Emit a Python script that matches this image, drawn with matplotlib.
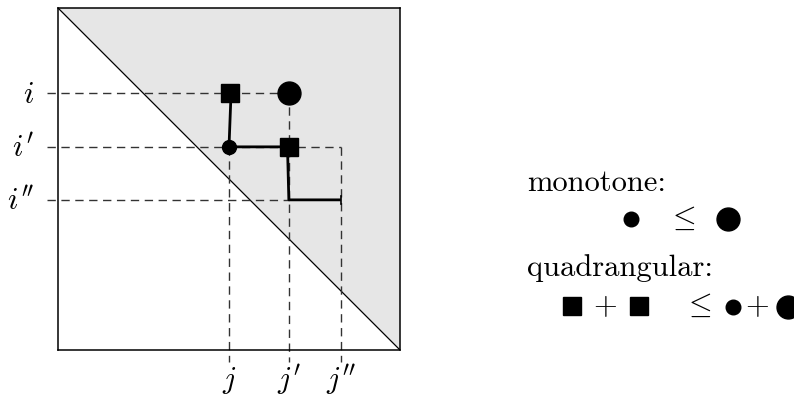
import matplotlib.pyplot as plt
import numpy as np

plt.rcParams['mathtext.fontset'] = 'cm'

# positions of the rows / columns inside the unit square
row_names = ["i", "i'", "i''"]
row_pos = [0.751, 0.594, 0.439]
col_names = ["j", "j'", "j''"]
col_pos = [0.500, 0.675, 0.827]

# marks on the grid: (column index, row index)
square_pts = [(0, 0), (1, 1)]
small_dot = (0, 1)
big_dot = (1, 0)
# solid path through the cells
path_cols = [0, 0, 1, 1, 1, 2]
path_rows = [0, 1, 1, 1, 2, 2]

fig = plt.figure(figsize=(7.94, 4.02), dpi=100)
ax = fig.add_axes([58 / 794, 51 / 402, 342 / 794, 342 / 402])
ax.set_xlim(0, 1)
ax.set_ylim(0, 1)
ax.set_xticks([])
ax.set_yticks([])
for s in ax.spines.values():
    s.set_linewidth(1.1)

# shaded upper triangle and diagonal
ax.fill([0, 1, 1], [1, 1, 0], color='#e6e6e6', lw=0, zorder=0)
ax.plot([0, 1], [1, 0], color='black', lw=0.9, zorder=1)

dash = dict(color='#333333', lw=1.0, dashes=(6, 4), clip_on=False, zorder=2)
x0 = -0.032
y0 = -0.035
# horizontal dashed guides
ax.plot([x0, col_pos[1]], [row_pos[0], row_pos[0]], **dash)
ax.plot([x0, col_pos[2]], [row_pos[1], row_pos[1]], **dash)
ax.plot([x0, col_pos[1]], [row_pos[2], row_pos[2]], **dash)
# vertical dashed guides
ax.plot([col_pos[0], col_pos[0]], [row_pos[1], y0], **dash)
ax.plot([col_pos[1], col_pos[1]], [row_pos[0], y0], **dash)
ax.plot([col_pos[2], col_pos[2]], [row_pos[1], y0], **dash)

# solid path
px = [col_pos[c] for c in path_cols]
py = [row_pos[r] for r in path_rows]
px[0] += 0.006
px[3] -= 0.004
ax.plot(px, py, color='black', lw=2.0, zorder=3, solid_capstyle='butt')
ax.plot([col_pos[2], col_pos[2]], [row_pos[2] - 0.012, row_pos[2] + 0.012],
        color='black', lw=1.2, zorder=3)

for c, r in square_pts:
    ax.plot(col_pos[c] + (0.004 if c == 0 else 0), row_pos[r], 's',
            color='black', ms=13.5, zorder=4)
ax.plot(col_pos[small_dot[0]], row_pos[small_dot[1]], 'o', color='black', ms=10, zorder=4)
ax.plot(col_pos[big_dot[0]], row_pos[big_dot[1]], 'o', color='black', ms=16.5, zorder=4)

# axis labels
for name, y in zip(row_names, row_pos):
    ax.text(-0.07, y, '$%s$' % name, fontsize=22, ha='right', va='center', clip_on=False)
for name, x in zip(col_names, col_pos):
    ax.text(x, -0.085, '$%s$' % name, fontsize=22, ha='center', va='center', clip_on=False)

# legend on the right, in pixel coordinates
lax = fig.add_axes([0, 0, 1, 1])
lax.set_xlim(0, 794)
lax.set_ylim(402, 0)
lax.axis('off')
lax.patch.set_alpha(0)

lax.text(527, 183, 'monotone:', fontfamily='cmr10', fontsize=22, ha='left', va='center')
lax.plot(631, 220, 'o', color='black', ms=10.5)
lax.text(681, 218, r'$\leq$', fontsize=22, ha='center', va='center')
lax.plot(728, 220, 'o', color='black', ms=16.5)

lax.text(527, 268, 'quadrangular:', fontfamily='cmr10', fontsize=22, ha='left', va='center')
lax.plot(572, 307, 's', color='black', ms=13)
lax.text(605, 306, r'$+$', fontsize=22, ha='center', va='center')
lax.plot(639, 307, 's', color='black', ms=13)
lax.text(697, 305, r'$\leq$', fontsize=22, ha='center', va='center')
lax.plot(733, 308, 'o', color='black', ms=10.5)
lax.text(757, 306, r'$+$', fontsize=22, ha='center', va='center')
lax.plot(788, 308, 'o', color='black', ms=16.5, clip_on=True)

fig.savefig('out.png', dpi=100)
